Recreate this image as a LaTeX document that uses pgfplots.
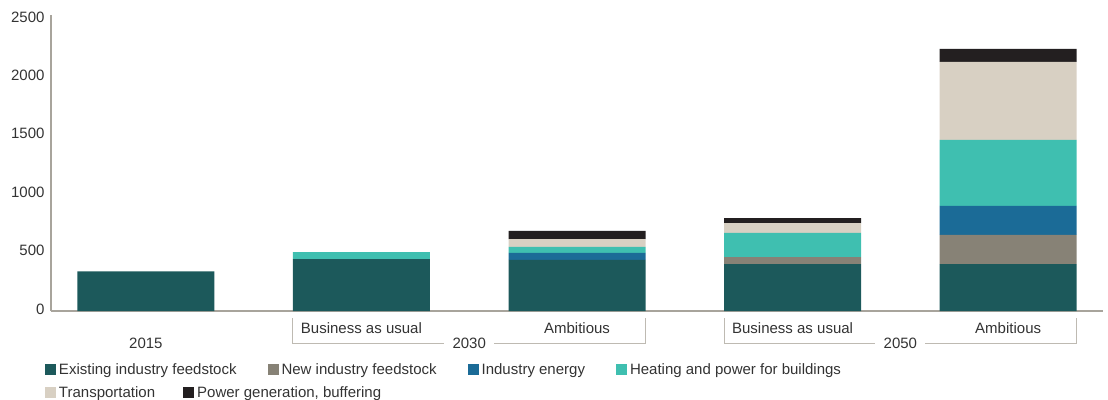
\documentclass[border=0pt]{standalone}
\usepackage{pgfplots}
\pgfplotsset{compat=1.18}
\usepackage{fontspec}
\setmainfont{Liberation Sans}

\definecolor{existing}{RGB}{28,89,91}
\definecolor{newfeed}{RGB}{135,130,118}
\definecolor{indenergy}{RGB}{27,107,151}
\definecolor{heating}{RGB}{63,191,176}
\definecolor{transport}{RGB}{216,208,195}
\definecolor{powergen}{RGB}{35,31,32}
\definecolor{axisgray}{RGB}{168,164,156}
\definecolor{brgray}{RGB}{190,186,178}
\definecolor{txt}{RGB}{51,51,51}

\pgfplotsset{
  sq legend/.style={legend image code/.code={\path[##1] (0pt,-5.5pt) rectangle (11pt,5.5pt);}},
  frame/.style={
    at={(51pt,88pt)}, anchor=south west,
    scale only axis, width=1052pt, height=296pt,
    xmin=-0.44, xmax=4.44, ymin=0, ymax=2534,
  },
}

\begin{document}
\begin{tikzpicture}[font=\fontsize{15}{18}\selectfont, text=txt]
\path[use as bounding box] (0,0) rectangle (1108pt,399pt);

\begin{axis}[
  frame,
  axis x line*=bottom, axis y line*=left,
  axis line style={draw=axisgray, line width=1.1pt, -},
  major tick length=0pt,
  ytick={0,500,...,2500},
  yticklabel style={text=txt, xshift=-3pt, yshift=2pt},
  /pgf/number format/assume math mode=true,
  /pgf/number format/1000 sep={},
  xtick={1,2,3,4},
  xticklabels={Business as usual, Ambitious, Business as usual, Ambitious},
  xticklabel style={text=txt, yshift=-8pt},
  extra x ticks={0},
  extra x tick labels={2015},
  extra x tick style={xticklabel style={yshift=-15pt}},
  ybar stacked, bar width=137pt,
  clip=false,
  legend columns=4,
  legend style={at={(-0.0057,-0.1993)}, anchor=west, draw=none, fill=none,
    inner sep=0pt, outer sep=0pt, nodes={inner sep=0pt, text=txt},
    /tikz/every odd column/.append style={column sep=3pt},
    /tikz/every even column/.append style={column sep=31pt}},
]
\addplot[fill=existing, draw=none, sq legend] coordinates {(0,340) (1,445) (2,437) (3,402) (4,402)};
\addlegendentry{Existing industry feedstock}
\addplot[fill=newfeed, draw=none, sq legend] coordinates {(0,0) (1,0) (2,0) (3,60) (4,249)};
\addlegendentry{New industry feedstock}
\addplot[fill=indenergy, draw=none, sq legend] coordinates {(0,0) (1,0) (2,60) (3,0) (4,248)};
\addlegendentry{Industry energy}
\addplot[fill=heating, draw=none, sq legend] coordinates {(0,0) (1,60) (2,51) (3,206) (4,565)};
\addlegendentry{Heating and power for buildings}
\addplot[fill=transport, draw=none, forget plot] coordinates {(0,0) (1,0) (2,68) (3,85) (4,668)};
\addplot[fill=powergen, draw=none, forget plot] coordinates {(0,0) (1,0) (2,69) (3,43) (4,111)};

% group labels with brackets
\node at ([yshift=-32pt]axis cs:1.5,0) {2030};
\node at ([yshift=-32pt]axis cs:3.5,0) {2050};
\draw[brgray, line width=1pt] ([yshift=-7pt]axis cs:0.682,0) |- ([xshift=-25pt,yshift=-32pt]axis cs:1.5,0);
\draw[brgray, line width=1pt] ([yshift=-7pt]axis cs:2.318,0) |- ([xshift=25pt,yshift=-32pt]axis cs:1.5,0);
\draw[brgray, line width=1pt] ([yshift=-7pt]axis cs:2.682,0) |- ([xshift=-25pt,yshift=-32pt]axis cs:3.5,0);
\draw[brgray, line width=1pt] ([yshift=-7pt]axis cs:4.318,0) |- ([xshift=25pt,yshift=-32pt]axis cs:3.5,0);
\end{axis}

% second legend row
\begin{axis}[
  frame, hide axis,
  legend columns=2,
  legend style={at={(-0.0057,-0.277)}, anchor=west, draw=none, fill=none,
    inner sep=0pt, outer sep=0pt, nodes={inner sep=0pt, text=txt},
    /tikz/every odd column/.append style={column sep=3pt},
    /tikz/every even column/.append style={column sep=28pt}},
]
\addlegendimage{fill=transport, draw=none, sq legend}
\addlegendentry{Transportation}
\addlegendimage{fill=powergen, draw=none, sq legend}
\addlegendentry{Power generation, buffering}
\end{axis}
\end{tikzpicture}
\end{document}
